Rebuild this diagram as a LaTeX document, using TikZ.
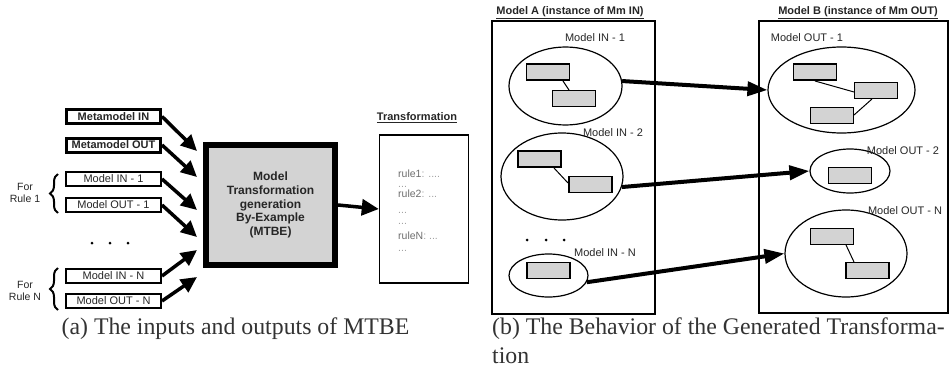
\documentclass[tikz,border=0pt]{standalone}
\usepackage{fontspec}
\setmainfont{Liberation Serif}
\setsansfont{Liberation Sans}
\usetikzlibrary{arrows.meta,shapes.geometric,decorations.pathreplacing,calc}
\definecolor{boxgray}{HTML}{D3D3D3}
\definecolor{txtgray}{HTML}{262626}
\definecolor{rulegray}{HTML}{6E6E6E}
\definecolor{dotgray}{HTML}{A0A0A0}
\definecolor{capgray}{HTML}{333333}
\tikzset{
  metabox/.style={draw, line width=3pt, minimum width=94pt, minimum height=14pt, inner sep=0pt,
    font=\sffamily\bfseries\fontsize{11}{12}\selectfont, text=txtgray},
  modbox/.style={draw, line width=2pt, minimum width=95pt, minimum height=14pt, inner sep=0pt,
    font=\sffamily\fontsize{11}{12}\selectfont, text=txtgray},
  inarrow/.style={line width=3.5pt, -{Triangle[length=16pt,width=15pt]}},
  outarrow/.style={line width=4pt, -{Triangle[length=20pt,width=14pt]}},
  lbl/.style={font=\sffamily\fontsize{11}{12}\selectfont, text=txtgray, inner sep=0pt},
  ttl/.style={font=\sffamily\bfseries\fontsize{11}{12}\selectfont, text=txtgray, inner sep=0pt},
  srect/.style={draw, fill=boxgray, line width=1.2pt, minimum width=43pt, minimum height=16pt, inner sep=0pt},
  ell/.style={draw, ellipse, line width=1.2pt, inner sep=0pt},
  frame/.style={draw, line width=1.5pt},
  dotmark/.style={fill, circle, inner sep=0pt, minimum size=3pt},
  rtxt/.style={font=\sffamily\fontsize{10.5}{12}\selectfont, text=rulegray, inner sep=0pt, anchor=base west},
  captxt/.style={font=\fontsize{23.8}{28}\selectfont, text=capgray, inner sep=0pt, anchor=base},
  bracedec/.style={decorate, decoration={brace, amplitude=8pt}, line width=2pt},
}
\begin{document}
\begin{tikzpicture}[x=1pt, y=-1pt]
\useasboundingbox (0,0) rectangle (952,369);
% ---------- (a) ----------
\node[metabox] (mmin)  at (113.5,116.5) {Metamodel IN};
\node[metabox] (mmout) at (113.5,145) {Metamodel OUT};
\node[modbox] (min1)  at (113.5,179) {Model IN - 1};
\node[modbox] (mout1) at (113.5,205) {Model OUT - 1};
\node[modbox] (minn)  at (113.5,276) {Model IN - N};
\node[modbox] (moutn) at (113.5,301) {Model OUT - N};
\node[dotmark] (ld1) at (92,243) {};
\node[dotmark] (ld2) at (110,243) {};
\node[dotmark] (ld3) at (128,243) {};
\node[lbl, align=center, font=\sffamily\fontsize{10.5}{12.5}\selectfont] (fr1) at (25,193) {For\\Rule 1};
\node[lbl, align=center, font=\sffamily\fontsize{10.5}{12.5}\selectfont] (frn) at (25,291) {For\\Rule N};
\coordinate (b1s) at (58,213);
\coordinate (b1e) at (58,174);
\coordinate (bns) at (58,310);
\coordinate (bne) at (58,268);
\draw[bracedec] (b1s) -- (b1e);
\draw[bracedec] (bns) -- (bne);

\node[draw, line width=6pt, fill=boxgray, minimum width=129pt, minimum height=120pt, inner sep=0pt,
  align=center, font=\sffamily\bfseries\fontsize{12}{13.8}\selectfont, text=txtgray] (mtbe) at (270.5,205)
  {Model\\Transformation\\generation\\By-Example\\(MTBE)};

\coordinate (t1) at (197,151);
\coordinate (t2) at (197,177);
\coordinate (t3) at (197,210);
\coordinate (t4) at (197,237);
\coordinate (t5) at (197,250);
\coordinate (t6) at (197,277);
\draw[inarrow] (mmin.east) -- (t1);
\draw[inarrow] (mmout.east) -- (t2);
\draw[inarrow] (min1.east) -- (t3);
\draw[inarrow] (mout1.east) -- (t4);
\draw[inarrow] (minn.east) -- (t5);
\draw[inarrow] (moutn.east) -- (t6);

\node[frame, minimum width=89pt, minimum height=148pt, inner sep=0pt] (trans) at (424,209) {};
\node[ttl] (transt) at (417,118) {\underline{Transformation}};
\draw[inarrow, -{Triangle[length=17pt,width=16pt]}] (mtbe.east) -- (trans.west);
\node[rtxt] (r1) at (398,177) {rule1\textcolor{dotgray}{ : ....}};
\node[rtxt, text=dotgray] (r1d) at (398,187) {...};
\node[rtxt] (r2) at (398,197) {rule2\textcolor{dotgray}{: ...}};
\node[rtxt, text=dotgray] (r2d) at (398,213) {...};
\node[rtxt, text=dotgray] (r3d) at (398,224) {...};
\node[rtxt] (rn) at (398,239) {ruleN\textcolor{dotgray}{: ...}};
\node[rtxt, text=dotgray] (rnd) at (398,251) {...};

\node[captxt] (capa) at (235.5,334) {(a) The inputs and outputs of MTBE};
% ---------- (b) ----------
\node[frame, minimum width=163pt, minimum height=293pt, inner sep=0pt] (ma) at (573.5,167.5) {};
\node[frame, minimum width=189pt, minimum height=292pt, inner sep=0pt] (mb) at (853.5,167) {};
\node[ttl] (mat) at (570,13) {\underline{Model A (instance of Mm IN)}};
\node[ttl] (mbt) at (858,13) {\underline{Model B (instance of Mm OUT)}};

\node[ell, minimum width=113pt, minimum height=78pt] (ei1) at (565.5,86) {};
\node[lbl] (li1) at (595,38) {Model IN - 1};
\node[srect] (a11) at (548,72) {};
\node[srect] (a12) at (574,98.5) {};
\draw[line width=1pt] (563,81) -- (569,90);

\node[ell, minimum width=122pt, minimum height=87pt] (ei2) at (562,176.5) {};
\node[lbl] (li2) at (613,133) {Model IN - 2};
\node[srect] (a21) at (539.5,159) {};
\node[srect] (a22) at (590.5,184.5) {};
\draw[line width=1pt] (554,168) -- (568,183);

\node[dotmark] (rd1) at (527,240) {};
\node[dotmark] (rd2) at (546,240) {};
\node[dotmark] (rd3) at (564,240) {};

\node[ell, minimum width=79pt, minimum height=43pt] (ein) at (548.5,275.5) {};
\node[lbl] (lin) at (605,253) {Model IN - N};
\node[srect] (an1) at (548.5,270.5) {};

\node[ell, minimum width=147pt, minimum height=86pt] (eo1) at (841.5,90) {};
\node[lbl] (lo1) at (807,38) {Model OUT - 1};
\node[srect] (b11) at (815,72) {};
\node[srect] (b12) at (876,90.5) {};
\node[srect] (b13) at (832,115.5) {};
\draw[line width=1pt] (815,81) -- (854,92);
\draw[line width=1pt] (872,99) -- (854,115);

\node[ell, minimum width=80pt, minimum height=44pt] (eo2) at (850,171) {};
\node[lbl] (lo2) at (903,151) {Model OUT - 2};
\node[srect] (b21) at (850,175.5) {};

\node[ell, minimum width=122pt, minimum height=87pt] (eon) at (846,253.5) {};
\node[lbl] (lon) at (905,211) {Model OUT - N};
\node[srect] (bn1) at (832,236.5) {};
\node[srect] (bn2) at (867.5,270.5) {};
\draw[line width=1pt] (846,245) -- (854,262);

\draw[outarrow] (ei1.5) -- (eo1.west);
\draw[outarrow] (ei2.-10) -- (eo2.west);
\draw[outarrow] (ein.-10) -- (eon.west);

\node[captxt, anchor=base west] (capb1) at (492,334) {(b) The Behavior of the Generated Transforma-};
\node[captxt, anchor=base west] (capb2) at (492,363) {tion};
\end{tikzpicture}
\end{document}
